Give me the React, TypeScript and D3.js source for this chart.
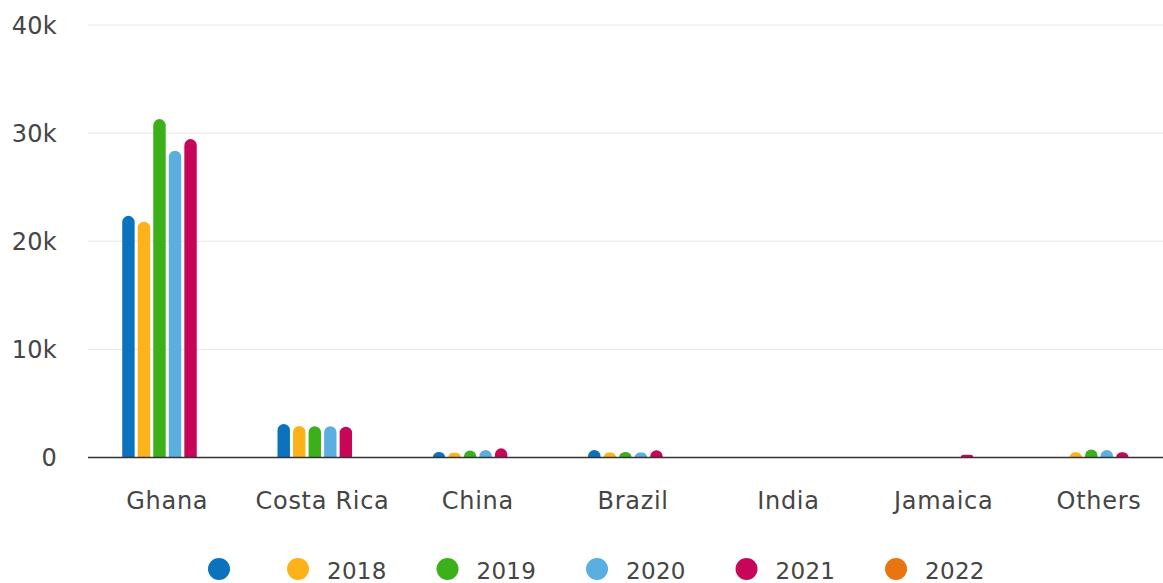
import React from "react";
import * as d3 from "d3";

const categories = ["Ghana", "Costa Rica", "China", "Brazil", "India", "Jamaica", "Others"];
const seriesNames = ["", "2018", "2019", "2020", "2021", "2022"];
const seriesColors = ["#0b72bd", "#fdb21a", "#3cb01a", "#5aaee0", "#c7065a", "#e8750f"];

const values_blank = [22350, 3100, 500, 700, 30, 30, 0];
const values_2018 = [21800, 2920, 450, 470, 30, 30, 480];
const values_2019 = [31300, 2900, 650, 520, 30, 30, 740];
const values_2020 = [28380, 2900, 700, 470, 30, 30, 700];
const values_2021 = [29450, 2850, 850, 680, 30, 250, 480];
const values_2022: (number | null)[] = [null, null, null, null, null, null, null];

const seriesValues = [values_blank, values_2018, values_2019, values_2020, values_2021, values_2022];
const yTicks = [0, 10000, 20000, 30000, 40000];
const yTickLabels = ["0", "10k", "20k", "30k", "40k"];

const W = 1163;
const H = 583;
const FONT = "'DejaVu Sans', Verdana, sans-serif";

function barPath(x: number, w: number, y0: number, yTop: number) {
  const h = y0 - yTop;
  if (h <= 0) return "";
  const r = Math.min(w / 2, h);
  return `M${x},${y0}V${yTop + r}A${r},${r} 0 0 1 ${x + r},${yTop}H${x + w - r}A${r},${r} 0 0 1 ${x + w},${yTop + r}V${y0}Z`;
}

export default function App() {
  const x0 = d3.scaleBand<string>().domain(categories).range([89.6, 89.6 + 7 * 155.3]).paddingInner(0).paddingOuter(0);
  const bw = x0.bandwidth();
  const x1 = d3
    .scaleBand<string>()
    .domain(seriesNames.map((_, i) => String(i)))
    .range([bw * 0.2, bw * 0.8])
    .paddingInner(0)
    .paddingOuter(0);
  const slot = x1.bandwidth();
  const barW = slot * 0.8;
  const y = d3.scaleLinear().domain([0, 40000]).range([457.5, 25]);

  const axisFont = 24;
  const legendFont = 23;
  const legendY = 569;
  const legendR = 11;
  let cx = 219;
  const legendItems = seriesNames.map((name, i) => {
    const item = { name, color: seriesColors[i], cx };
    const tw = name.length * 0.636 * legendFont;
    cx += name ? 29 + tw + 62 : 79;
    return item;
  });

  return (
    <svg width={W} height={H} style={{ position: "absolute", left: 0, top: 0, background: "#fff" }} fontFamily={FONT}>
      <rect x={0} y={0} width={W} height={H} fill="#fff" />
      {yTicks.map((t, i) => (
        <g key={t}>
          {t !== 0 && <line x1={88} x2={W} y1={y(t)} y2={y(t)} stroke="#e6e6e6" strokeWidth={1} />}
          <text x={57} y={y(t) + 8.5} textAnchor="end" fontSize={axisFont} fill="#454545" letterSpacing={0.3}>
            {yTickLabels[i]}
          </text>
        </g>
      ))}
      {categories.map((c, ci) => (
        <g key={c} transform={`translate(${x0(c)},0)`}>
          {seriesValues.map((vals, si) => {
            const v = vals[ci];
            if (v == null || v <= 0) return null;
            const bx = (x1(String(si)) as number) + (slot - barW) / 2;
            return <path key={si} d={barPath(bx, barW, y(0), y(v))} fill={seriesColors[si]} />;
          })}
          <text x={bw / 2} y={509} textAnchor="middle" fontSize={axisFont} fill="#454545" letterSpacing={0.7}>
            {c}
          </text>
        </g>
      ))}
      <line x1={88} x2={W} y1={y(0)} y2={y(0)} stroke="#333" strokeWidth={1.5} />
      {legendItems.map((it, i) => (
        <g key={i}>
          <circle cx={it.cx} cy={legendY} r={legendR} fill={it.color} />
          {it.name && (
            <text x={it.cx + 29} y={legendY + 10} fontSize={legendFont} fill="#454545" letterSpacing={0.3}>
              {it.name}
            </text>
          )}
        </g>
      ))}
    </svg>
  );
}
